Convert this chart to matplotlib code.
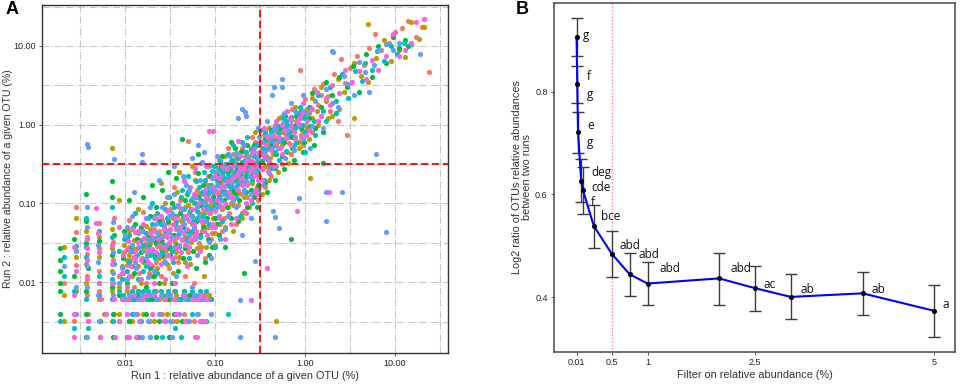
import numpy as np
import matplotlib
matplotlib.use("Agg")
import matplotlib.pyplot as plt
from matplotlib.ticker import FixedLocator, NullFormatter

plt.rcParams['font.family'] = ['Liberation Sans', 'DejaVu Sans']

# ---------------- Panel A data: (run1 %, run2 %) per sample ----------------
sample_red = [
 (0.0027,0.0032),(0.0039,0.0039),(0.0053,0.0032),(0.0076,0.0039),(0.011,0.0032),(0.0135,0.0039),(0.019,0.0032),(0.026,0.0039),(0.034,0.0032),(0.045,0.0039),(0.058,0.0032),(0.0105,0.002),
 (0.0029,0.089),(0.0029,0.044),(0.0021,0.0099),(0.0029,0.0165),(0.0038,0.0068),(0.0038,0.012),(0.0038,0.023),(0.0038,0.038),(0.0051,0.0078),(0.0051,0.014),(0.0051,0.027),(0.0051,0.056),(0.0073,0.0062),(0.0073,0.0099),(0.0073,0.019),(0.0073,0.032),(0.0076,0.066),(0.0085,0.012),
 (0.0105,0.0062),(0.0105,0.0165),(0.011,0.028),(0.011,0.062),(0.0125,0.0088),(0.0125,0.021),(0.013,0.043),(0.0145,0.0062),(0.0145,0.013),(0.015,0.034),(0.016,0.078),(0.017,0.0099),(0.018,0.024),(0.019,0.0062),(0.02,0.016),(0.021,0.047),(0.022,0.0078),(0.023,0.029),(0.025,0.012),(0.026,0.062),(0.027,0.021),(0.028,0.0062),(0.029,0.038),
 (0.031,0.015),(0.032,0.085),(0.034,0.026),(0.035,0.0078),(0.037,0.048),(0.039,0.018),(0.041,0.11),(0.043,0.034),(0.046,0.012),(0.048,0.066),(0.05,0.024),(0.05,0.62),(0.053,0.16),(0.056,0.042),(0.059,0.0099),(0.062,0.085),(0.066,0.031),(0.07,0.13),(0.074,0.055),(0.078,0.02),(0.083,0.22),(0.088,0.075),(0.093,0.042),(0.098,0.13),
 (0.105,0.26),(0.11,0.095),(0.115,0.055),(0.12,0.17),(0.13,0.32),(0.135,0.12),(0.145,0.075),(0.15,0.21),(0.16,0.42),(0.17,0.15),(0.18,0.095),(0.19,0.28),(0.2,0.5),(0.21,0.19),(0.23,0.12),(0.24,0.36),(0.26,0.24),(0.28,0.6),(0.29,0.16),
 (0.32,0.42),(0.35,0.75),(0.38,0.3),(0.42,0.55),(0.46,1.0),(0.5,0.7),(0.55,1.3),(0.6,0.9),(0.66,0.58),(0.72,1.6),(0.8,1.1),(0.9,0.75),(1.0,2.1),(1.1,1.4),(1.25,2.8),(1.4,1.8),(1.6,3.3),(1.8,2.3),(2.1,4.4),(2.5,6.8),(2.8,3.4),(3.2,5.2),(3.8,7.5),(4.5,5.8),(5.2,9.5),(6.0,14),(7.0,8.8),(8.5,11),(10,15),(12,17),(14,21),(17,13),(24,4.6),(0.87,5.0),(2.9,0.75),(20,17.6),
]
core_red = [
 (0.0095,0.0062),(0.012,0.0062),(0.016,0.0068),(0.024,0.0062),(0.033,0.0062),(0.044,0.0068),(0.06,0.0062),(0.075,0.0068),
 (0.0095,0.013),(0.0098,0.024),(0.0115,0.019),(0.0135,0.027),(0.0155,0.02),(0.017,0.031),(0.0185,0.013),(0.02,0.038),(0.022,0.018),(0.024,0.045),(0.026,0.033),(0.028,0.024),
 (0.03,0.056),(0.033,0.04),(0.036,0.021),(0.038,0.07),(0.04,0.042),(0.043,0.058),(0.046,0.09),(0.049,0.036),(0.052,0.075),(0.055,0.11),(0.059,0.05),(0.063,0.15),(0.067,0.065),(0.072,0.095),(0.077,0.18),(0.082,0.12),(0.087,0.05),(0.093,0.1),(0.098,0.065),
 (0.105,0.17),(0.11,0.13),(0.12,0.23),(0.125,0.065),(0.135,0.2),(0.14,0.14),(0.15,0.1),(0.16,0.25),(0.17,0.33),(0.18,0.18),(0.19,0.13),(0.2,0.26),(0.215,0.4),(0.23,0.22),(0.25,0.3),(0.27,0.45),(0.29,0.23),(0.31,0.55),
 (0.34,0.28),(0.37,0.48),(0.41,0.38),(0.45,0.65),(0.5,0.95),(0.56,0.55),(0.62,0.75),(0.7,0.85),(0.78,0.95),(0.88,1.2),(1.0,1.0),(1.15,1.7),
 (0.06,0.25),(0.09,0.035),(0.12,0.045),(0.14,0.5),(0.17,0.055),(0.22,0.075),(0.26,0.7),(0.3,0.11),(0.36,0.16),(0.42,0.22),(0.55,0.32),(0.7,0.42),(0.95,0.55),(1.2,0.8),(1.5,2.4),(1.9,1.5),(2.3,1.1),(0.045,0.2),(0.035,0.16),(0.11,0.36),
]
sample_olive = [
 (0.0021,0.0032),(0.0039,0.0032),(0.0058,0.0039),(0.0072,0.0032),(0.0085,0.0039),(0.012,0.0032),(0.016,0.0039),(0.021,0.0032),(0.029,0.0039),(0.038,0.0032),(0.05,0.0032),(0.065,0.0039),(0.48,0.0032),
 (0.0021,0.028),(0.0021,0.0068),(0.0029,0.066),(0.0029,0.021),(0.0029,0.0078),(0.0037,0.0099),(0.0037,0.017),(0.0037,0.045),(0.0051,0.0062),(0.0051,0.021),(0.0051,0.038),(0.0072,0.5),(0.0072,0.0078),(0.0072,0.014),(0.0072,0.027),(0.0072,0.047),(0.0085,0.0088),(0.0085,0.11),
 (0.0105,0.0078),(0.0105,0.019),(0.011,0.045),(0.012,0.012),(0.013,0.0062),(0.013,0.026),(0.014,0.085),(0.015,0.0099),(0.016,0.018),(0.017,0.052),(0.018,0.0068),(0.019,0.031),(0.02,0.012),(0.021,0.07),(0.023,0.0062),(0.024,0.02),(0.025,0.04),(0.027,0.0099),(0.028,0.1),(0.029,0.026),
 (0.031,0.0062),(0.032,0.048),(0.034,0.013),(0.036,0.032),(0.038,0.14),(0.04,0.021),(0.042,0.062),(0.045,0.0078),(0.047,0.038),(0.05,0.095),(0.053,0.017),(0.056,0.055),(0.06,0.2),(0.063,0.027),(0.067,0.075),(0.071,0.045),(0.075,0.012),(0.08,0.11),(0.085,0.034),(0.09,0.16),(0.095,0.065),
 (0.1,0.042),(0.105,0.14),(0.11,0.28),(0.12,0.085),(0.125,0.2),(0.13,0.05),(0.14,0.13),(0.15,0.35),(0.16,0.095),(0.17,0.23),(0.18,0.14),(0.19,0.45),(0.2,0.075),(0.22,0.3),(0.23,0.18),(0.25,0.5),(0.27,0.13),(0.29,0.34),
 (0.31,0.22),(0.34,0.62),(0.37,0.4),(0.4,0.9),(0.44,0.3),(0.48,0.55),(0.52,1.2),(0.57,0.8),(0.63,0.45),(0.7,1.0),(0.78,1.7),(0.86,0.6),(0.95,1.3),(1.05,0.9),(1.2,2.2),(1.15,0.21),(1.35,1.5),(1.5,3.0),(1.7,2.0),(2.0,1.3),(2.3,3.8),(2.7,2.6),(3.5,1.2),(3.5,6.0),(4.2,4.2),(5.0,3.5),(5.0,19),(6.2,7.0),(7.5,12),(9,6.5),(11,9),(12.9,7.2),(15,20),(18.7,12.2),(21,17.6),
]
core_olive = [
 (0.0105,0.0062),(0.015,0.0062),(0.02,0.0068),(0.027,0.0062),(0.037,0.0068),(0.05,0.0062),(0.065,0.0062),(0.085,0.0068),
 (0.0092,0.016),(0.0097,0.03),(0.011,0.022),(0.0125,0.034),(0.014,0.016),(0.016,0.028),(0.0175,0.022),(0.019,0.048),(0.021,0.034),(0.023,0.015),(0.025,0.026),(0.027,0.05),(0.029,0.017),
 (0.031,0.03),(0.034,0.065),(0.037,0.024),(0.04,0.048),(0.043,0.085),(0.046,0.018),(0.05,0.045),(0.054,0.032),(0.058,0.1),(0.062,0.06),(0.066,0.13),(0.07,0.028),(0.075,0.075),(0.08,0.05),(0.085,0.17),(0.09,0.095),(0.096,0.21),
 (0.1,0.11),(0.11,0.07),(0.115,0.19),(0.12,0.13),(0.13,0.26),(0.14,0.09),(0.15,0.17),(0.16,0.13),(0.17,0.38),(0.18,0.21),(0.195,0.3),(0.21,0.12),(0.22,0.25),(0.24,0.4),(0.26,0.18),(0.28,0.27),(0.3,0.4),
 (0.33,0.5),(0.36,0.3),(0.4,0.6),(0.44,0.42),(0.49,0.8),(0.54,0.6),(0.6,1.1),(0.67,0.7),(0.75,0.9),(0.83,1.3),(0.93,0.85),(1.05,1.6),(1.2,1.2),
 (0.055,0.3),(0.08,0.028),(0.1,0.03),(0.13,0.4),(0.16,0.045),(0.2,0.065),(0.24,0.09),(0.28,0.8),(0.33,0.13),(0.4,0.2),(0.5,0.25),(0.65,0.33),(0.85,0.5),(1.1,0.65),(1.4,1.0),(1.8,1.2),(2.4,1.6),(0.04,0.25),(0.025,0.18),
]
sample_green = [
 (0.0019,0.0039),(0.0037,0.002),(0.0037,0.0039),(0.0053,0.0032),(0.0073,0.002),(0.0073,0.0039),(0.011,0.0032),(0.014,0.002),(0.017,0.0039),(0.022,0.002),(0.024,0.0032),(0.031,0.002),(0.035,0.0039),(0.043,0.0032),(0.08,0.0032),
 (0.0019,0.027),(0.0019,0.019),(0.0019,0.014),(0.0019,0.0099),(0.0019,0.0078),(0.0027,0.035),(0.0027,0.012),(0.0037,0.13),(0.0037,0.06),(0.0037,0.031),(0.0037,0.0078),(0.0039,0.015),(0.0052,0.0068),(0.0052,0.033),(0.0072,0.19),(0.0072,0.12),(0.0072,0.022),(0.0072,0.0088),(0.0076,0.04),(0.0085,0.0068),
 (0.0105,0.0099),(0.0105,0.035),(0.011,0.11),(0.012,0.0062),(0.012,0.016),(0.013,0.055),(0.014,0.0078),(0.015,0.024),(0.016,0.12),(0.017,0.0088),(0.018,0.038),(0.019,0.015),(0.02,0.0062),(0.021,0.022),(0.022,0.09),(0.024,0.0099),(0.025,0.033),(0.026,0.15),(0.027,0.018),(0.029,0.0068),
 (0.03,0.06),(0.032,0.022),(0.033,0.0099),(0.035,0.04),(0.037,0.21),(0.039,0.014),(0.043,0.65),(0.044,0.05),(0.046,0.027),(0.049,0.13),(0.052,0.0068),(0.055,0.07),(0.058,0.036),(0.062,0.015),(0.065,0.24),(0.069,0.095),(0.073,0.05),(0.077,0.018),(0.082,0.065),(0.087,0.14),(0.092,0.028),(0.097,0.3),
 (0.1,0.09),(0.105,0.055),(0.11,0.18),(0.12,0.4),(0.125,0.11),(0.13,0.028),(0.14,0.26),(0.15,0.065),(0.155,0.15),(0.165,0.5),(0.175,0.2),(0.185,0.11),(0.2,0.34),(0.21,0.013),(0.22,0.22),(0.23,0.55),(0.25,0.15),(0.27,0.32),(0.29,0.09),
 (0.31,0.58),(0.33,0.35),(0.36,0.18),(0.39,0.5),(0.42,0.85),(0.46,0.28),(0.5,0.62),(0.55,0.4),(0.6,1.3),(0.65,0.75),(0.7,0.035),(0.72,0.5),(0.8,1.0),(0.9,1.5),(0.98,0.6),(1.1,1.2),(1.2,2.5),(1.3,0.9),(1.5,1.7),(1.7,3.5),(1.6,0.33),(2.0,2.4),(2.4,4.0),(2.9,3.0),(3.4,5.5),(4.0,2.6),(4.8,8.0),(5.5,4.0),(6.5,10),(8,6),(9.5,13),(11,9.5),(14,10),(13,12),
]
core_green = [
 (0.0092,0.0062),(0.0135,0.0068),(0.018,0.0062),(0.026,0.0068),(0.03,0.0062),(0.04,0.0062),(0.056,0.0068),(0.07,0.0062),(0.09,0.0062),
 (0.0095,0.02),(0.0098,0.045),(0.0115,0.026),(0.0125,0.013),(0.0135,0.035),(0.015,0.05),(0.0165,0.019),(0.0175,0.027),(0.019,0.07),(0.021,0.012),(0.022,0.031),(0.024,0.06),(0.026,0.022),(0.028,0.045),
 (0.031,0.028),(0.033,0.1),(0.036,0.055),(0.038,0.03),(0.041,0.075),(0.044,0.02),(0.047,0.11),(0.05,0.045),(0.054,0.085),(0.057,0.025),(0.061,0.06),(0.065,0.12),(0.069,0.04),(0.074,0.17),(0.079,0.09),(0.084,0.035),(0.089,0.22),(0.094,0.12),
 (0.1,0.065),(0.105,0.23),(0.11,0.12),(0.118,0.3),(0.125,0.16),(0.135,0.09),(0.145,0.2),(0.155,0.35),(0.165,0.13),(0.175,0.28),(0.19,0.19),(0.2,0.47),(0.22,0.14),(0.235,0.3),(0.25,0.22),(0.27,0.55),(0.29,0.38),(0.3,0.17),
 (0.33,0.45),(0.36,0.65),(0.4,0.33),(0.43,0.55),(0.48,0.42),(0.53,0.9),(0.58,0.6),(0.64,1.0),(0.72,0.7),(0.8,1.3),(0.9,0.9),(1.0,1.35),(1.15,0.95),
 (0.065,0.42),(0.085,0.022),(0.11,0.04),(0.15,0.6),(0.18,0.06),(0.23,0.09),(0.27,0.12),(0.32,0.85),(0.38,0.14),(0.46,0.2),(0.58,0.27),(0.75,0.36),(0.95,0.45),(1.25,0.55),(1.6,0.8),(2.2,1.4),(0.03,0.25),(0.02,0.17),
]
sample_teal = [
 (0.0019,0.0032),(0.0027,0.0026),(0.0039,0.0026),(0.0053,0.002),(0.0073,0.0032),(0.0105,0.002),(0.012,0.0039),(0.015,0.0032),(0.019,0.002),(0.026,0.002),(0.028,0.0032),(0.036,0.0026),(0.042,0.002),(0.055,0.0039),(0.072,0.0032),(0.14,0.0039),
 (0.0021,0.021),(0.0021,0.012),(0.0027,0.0078),(0.0029,0.029),(0.0037,0.0062),(0.0037,0.021),(0.0037,0.028),(0.0037,0.065),(0.0051,0.0099),(0.0051,0.012),(0.0051,0.045),(0.0072,0.0062),(0.0072,0.011),(0.0072,0.038),(0.0072,0.09),(0.0076,0.017),(0.0085,0.025),(0.0085,0.0078),
 (0.012,0.0078),(0.014,0.0078),(0.016,0.0078),(0.018,0.0078),(0.021,0.0078),(0.025,0.0078),(0.03,0.0078),(0.036,0.0078),(0.045,0.0078),(0.055,0.0078),(0.068,0.0078),(0.08,0.0078),
 (0.0105,0.014),(0.011,0.04),(0.012,0.025),(0.013,0.075),(0.014,0.011),(0.015,0.045),(0.016,0.03),(0.017,0.016),(0.018,0.065),(0.019,0.022),(0.02,0.1),(0.022,0.036),(0.023,0.013),(0.025,0.055),(0.026,0.024),(0.028,0.085),(0.029,0.042),
 (0.031,0.12),(0.033,0.035),(0.034,0.018),(0.036,0.07),(0.038,0.05),(0.04,0.028),(0.043,0.15),(0.045,0.085),(0.048,0.045),(0.051,0.02),(0.054,0.11),(0.057,0.06),(0.061,0.19),(0.064,0.08),(0.068,0.038),(0.072,0.14),(0.076,0.25),(0.08,0.095),(0.085,0.055),(0.09,0.17),(0.095,0.11),
 (0.1,0.3),(0.105,0.2),(0.11,0.12),(0.115,0.35),(0.12,0.24),(0.13,0.14),(0.135,0.17),(0.14,0.42),(0.15,0.28),(0.16,0.19),(0.17,0.12),(0.18,0.38),(0.19,0.24),(0.2,0.6),(0.21,0.15),(0.22,0.45),(0.24,0.28),(0.26,0.2),(0.27,0.4),(0.29,0.26),
 (0.31,0.33),(0.34,0.5),(0.36,0.8),(0.39,0.36),(0.43,0.62),(0.47,0.45),(0.51,0.95),(0.56,0.65),(0.62,1.1),(0.68,0.8),(0.75,0.55),(0.84,1.4),(0.92,1.0),(1.0,0.45),(1.1,1.7),(1.25,1.1),(1.4,2.4),(1.6,1.5),(1.9,3.0),(2.2,2.0),(2.6,4.4),(3.0,2.2),(3.6,4.8),(4.3,3.6),(4.6,6.0),(5.5,5.0),(6.3,8.5),(7.5,6.5),(9,10),(10.5,8),(12.5,11),(15,10.5),
]
core_teal = [
 (0.0095,0.0068),(0.0125,0.0062),(0.017,0.0062),(0.022,0.0062),(0.032,0.0068),(0.042,0.0062),(0.052,0.0062),(0.062,0.0068),(0.077,0.0062),
 (0.0093,0.011),(0.0097,0.035),(0.0112,0.018),(0.0122,0.05),(0.0135,0.022),(0.0148,0.033),(0.016,0.014),(0.0172,0.042),(0.0185,0.03),(0.02,0.055),(0.0215,0.02),(0.023,0.075),(0.0245,0.038),(0.027,0.03),(0.029,0.065),
 (0.031,0.045),(0.033,0.025),(0.035,0.09),(0.037,0.06),(0.039,0.04),(0.042,0.12),(0.044,0.07),(0.047,0.035),(0.05,0.14),(0.053,0.08),(0.056,0.045),(0.06,0.1),(0.063,0.065),(0.066,0.16),(0.07,0.11),(0.074,0.07),(0.078,0.2),(0.083,0.13),(0.088,0.085),(0.093,0.26),(0.098,0.15),
 (0.102,0.1),(0.108,0.17),(0.114,0.27),(0.12,0.15),(0.127,0.21),(0.133,0.32),(0.14,0.23),(0.148,0.16),(0.156,0.36),(0.165,0.25),(0.175,0.17),(0.185,0.3),(0.2,0.22),(0.21,0.35),(0.23,0.26),(0.25,0.48),(0.27,0.32),(0.29,0.55),
 (0.32,0.42),(0.35,0.6),(0.39,0.5),(0.42,0.8),(0.47,0.62),(0.52,0.78),(0.57,1.2),(0.63,0.95),(0.7,1.25),(0.77,0.9),(0.87,1.7),(0.98,1.2),
 (0.07,0.33),(0.1,0.028),(0.12,0.06),(0.16,0.55),(0.19,0.07),(0.23,0.7),(0.26,0.1),(0.3,0.14),(0.35,0.2),(0.42,0.28),(0.52,0.36),(0.62,0.46),(0.8,0.6),(1.0,0.8),(1.3,0.75),(1.7,1.1),(2.2,1.4),(0.05,0.22),
]
sample_blue = [
 (0.0038,0.002),(0.011,0.002),(0.0155,0.002),(0.019,0.002),(0.033,0.002),(0.19,0.002),(0.46,0.002),(0.0029,0.0039),(0.0051,0.0032),(0.0085,0.0032),(0.013,0.0039),(0.018,0.0032),(0.024,0.0039),(0.032,0.0032),(0.04,0.0039),(0.052,0.0032),(0.063,0.0039),(0.09,0.0039),
 (0.0021,0.016),(0.0029,0.0088),(0.0029,0.025),(0.0038,0.575),(0.0039,0.515),(0.0038,0.09),(0.0038,0.05),(0.0038,0.016),(0.0038,0.0088),(0.005,0.0068),(0.005,0.018),(0.005,0.03),(0.0073,0.0068),(0.0076,0.37),(0.0073,0.058),(0.0073,0.024),(0.0073,0.013),(0.0085,0.0099),
 (0.0105,0.011),(0.0105,0.05),(0.011,0.0068),(0.012,0.03),(0.0125,0.14),(0.013,0.018),(0.014,0.042),(0.015,0.0068),(0.0153,0.43),(0.0153,0.34),(0.016,0.025),(0.017,0.065),(0.018,0.0115),(0.019,0.09),(0.02,0.035),(0.021,0.014),(0.022,0.055),(0.024,0.2),(0.025,0.0068),(0.026,0.038),(0.028,0.018),(0.029,0.12),
 (0.03,0.045),(0.032,0.0068),(0.033,0.075),(0.035,0.028),(0.037,0.012),(0.039,0.095),(0.041,0.045),(0.044,0.22),(0.046,0.065),(0.049,0.032),(0.052,0.15),(0.055,0.0088),(0.058,0.05),(0.065,0.56),(0.061,0.12),(0.064,0.022),(0.067,0.07),(0.071,0.34),(0.075,0.1),(0.079,0.06),(0.083,0.16),(0.087,0.032),(0.092,0.21),(0.097,0.085),
 (0.1,0.15),(0.106,0.4),(0.112,0.07),(0.118,0.22),(0.124,0.13),(0.13,0.048),(0.14,0.32),(0.15,0.18),(0.16,0.11),(0.17,0.44),(0.18,1.2),(0.185,0.26),(0.2,1.6),(0.21,0.14),(0.215,1.45),(0.22,1.3),(0.225,0.38),(0.24,0.22),(0.25,0.065),(0.28,0.0185),(0.19,0.0059),(0.27,0.5),(0.29,0.3),
 (0.31,0.7),(0.35,0.45),(0.38,1.1),(0.41,0.65),(0.44,0.079),(0.47,0.068),(0.43,2.4),(0.45,3.0),(0.55,3.8),(0.55,3.0),(0.52,0.049),(0.86,0.116),(1.73,0.06),(1.73,0.138),(2.6,0.139),(6.1,0.43),(7.9,0.043),(0.45,0.9),(0.5,0.5),(0.58,1.4),(0.64,0.85),(0.7,1.9),(0.78,0.7),(0.88,1.2),(0.96,2.4),(1.05,1.4),(1.15,0.5),(1.3,2.0),(1.5,1.3),(1.7,2.8),(1.98,8.7),(2.05,8.3),(2.3,1.7),(2.7,4.2),(3.0,3.3),(3.5,2.4),(4.0,6.2),(4.6,4.6),(5.2,2.6),(5.8,5.8),(6.6,9),(8,10.5),(9.5,9),(11,11),(19.2,7.8),
]
core_blue = [
 (0.0098,0.0062),(0.014,0.0062),(0.019,0.0068),(0.023,0.0062),(0.029,0.0068),(0.038,0.0062),(0.047,0.0062),(0.058,0.0068),(0.072,0.0062),(0.085,0.0062),
 (0.0094,0.015),(0.0099,0.04),(0.0113,0.025),(0.012,0.07),(0.0132,0.015),(0.0145,0.028),(0.0158,0.045),(0.017,0.02),(0.018,0.035),(0.0195,0.025),(0.021,0.065),(0.0225,0.042),(0.024,0.022),(0.026,0.09),(0.0275,0.055),(0.029,0.03),
 (0.031,0.07),(0.033,0.038),(0.035,0.13),(0.037,0.05),(0.04,0.03),(0.042,0.085),(0.045,0.055),(0.048,0.17),(0.051,0.04),(0.054,0.07),(0.057,0.12),(0.06,0.035),(0.064,0.09),(0.068,0.2),(0.072,0.06),(0.076,0.13),(0.081,0.085),(0.086,0.3),(0.091,0.14),(0.096,0.05),
 (0.1,0.25),(0.105,0.09),(0.112,0.17),(0.118,0.11),(0.125,0.28),(0.132,0.19),(0.14,0.12),(0.148,0.4),(0.156,0.22),(0.165,0.16),(0.175,0.32),(0.185,0.19),(0.2,0.27),(0.21,0.55),(0.22,0.19),(0.24,0.33),(0.26,0.42),(0.28,0.25),(0.3,0.38),
 (0.33,0.6),(0.36,0.38),(0.39,0.72),(0.43,0.5),(0.47,0.85),(0.52,0.62),(0.57,1.05),(0.63,0.72),(0.7,1.15),(0.78,1.5),(0.86,0.95),(0.95,1.5),
 (0.075,0.45),(0.09,0.02),(0.115,0.035),(0.14,0.07),(0.17,0.09),(0.2,0.04),(0.25,0.13),(0.3,0.9),(0.34,0.17),(0.4,0.24),(0.48,0.3),(0.6,0.38),(0.75,0.48),(0.95,0.65),(1.2,0.95),(1.6,0.9),(2.0,1.9),(0.035,0.3),(0.055,0.38),
]
sample_magenta = [
 (0.0027,0.002),(0.0053,0.002),(0.0077,0.002),(0.0107,0.002),(0.0133,0.002),(0.06,0.002),(0.063,0.002),(0.0027,0.0039),(0.0039,0.0032),(0.0062,0.0039),(0.0085,0.0032),(0.0105,0.0039),(0.0145,0.0032),(0.02,0.0039),(0.027,0.0032),(0.037,0.0039),(0.047,0.0032),(0.068,0.0032),(0.078,0.0032),
 (0.0027,0.028),(0.0027,0.0068),(0.0029,0.014),(0.0038,0.011),(0.0038,0.019),(0.0038,0.027),(0.0038,0.035),(0.0048,0.088),(0.0048,0.057),(0.005,0.042),(0.0052,0.024),(0.0052,0.0099),(0.0054,0.0062),(0.0072,0.0099),(0.0072,0.017),(0.0072,0.03),(0.0076,0.0062),(0.0085,0.05),
 (0.0105,0.0088),(0.0105,0.026),(0.011,0.012),(0.012,0.048),(0.0125,0.0068),(0.013,0.02),(0.014,0.032),(0.015,0.011),(0.016,0.055),(0.017,0.0068),(0.018,0.018),(0.019,0.042),(0.02,0.026),(0.021,0.0099),(0.022,0.065),(0.024,0.03),(0.025,0.017),(0.027,0.048),(0.028,0.011),(0.029,0.08),
 (0.031,0.032),(0.033,0.02),(0.034,0.055),(0.036,0.0099),(0.038,0.038),(0.04,0.09),(0.042,0.024),(0.044,0.042),(0.047,0.03),(0.049,0.016),(0.052,0.06),(0.055,0.035),(0.058,0.13),(0.061,0.045),(0.065,0.0062),(0.069,0.025),(0.073,0.085),(0.077,0.15),(0.081,0.04),(0.085,0.82),(0.089,0.11),(0.095,0.83),(0.095,0.055),
 (0.1,0.22),(0.105,0.11),(0.11,0.065),(0.115,0.16),(0.12,0.3),(0.13,0.1),(0.14,0.19),(0.15,0.12),(0.16,0.3),(0.17,0.065),(0.18,0.24),(0.19,0.4),(0.2,0.17),(0.21,0.27),(0.22,0.1),(0.23,0.35),(0.25,0.0059),(0.26,0.45),(0.27,0.22),(0.29,0.13),
 (0.31,0.45),(0.33,0.27),(0.35,0.9),(0.37,0.55),(0.38,0.0153),(0.4,0.35),(0.44,0.75),(0.48,1.1),(0.53,0.5),(0.58,0.85),(0.64,1.5),(0.7,0.95),(0.77,0.65),(0.82,0.08),(0.85,1.2),(0.95,1.9),(1.05,1.1),(1.2,1.6),(1.35,2.6),(1.5,1.3),(1.7,2.2),(1.85,0.14),(2.0,3.2),(2.4,2.5),(2.8,5.0),(3.3,3.5),(4.0,4.8),(4.8,3.8),(5.5,6.6),(6.5,5.0),(8,7.5),(9.5,14),(11,7.5),(13,9),(15,11),(17,20),(21,22),
]
core_magenta = [
 (0.0093,0.0062),(0.011,0.0062),(0.0155,0.0062),(0.021,0.0068),(0.028,0.0062),(0.035,0.0062),(0.045,0.0068),(0.055,0.0062),(0.07,0.0068),(0.08,0.0062),
 (0.0092,0.013),(0.0096,0.022),(0.0108,0.033),(0.0118,0.016),(0.0128,0.024),(0.014,0.045),(0.0152,0.019),(0.0165,0.036),(0.0178,0.026),(0.019,0.017),(0.0205,0.045),(0.022,0.024),(0.0235,0.035),(0.025,0.07),(0.027,0.028),(0.0285,0.04),
 (0.03,0.022),(0.032,0.048),(0.034,0.035),(0.036,0.065),(0.038,0.027),(0.041,0.05),(0.043,0.035),(0.046,0.07),(0.049,0.048),(0.052,0.028),(0.055,0.085),(0.058,0.055),(0.062,0.04),(0.066,0.1),(0.07,0.06),(0.075,0.045),(0.08,0.12),(0.085,0.075),(0.09,0.05),(0.095,0.16),
 (0.1,0.08),(0.106,0.14),(0.112,0.21),(0.12,0.09),(0.127,0.16),(0.135,0.27),(0.143,0.14),(0.152,0.2),(0.16,0.12),(0.17,0.22),(0.18,0.15),(0.19,0.28),(0.2,0.21),(0.215,0.32),(0.23,0.17),(0.245,0.27),(0.26,0.35),(0.28,0.3),(0.3,0.2),
 (0.32,0.6),(0.35,0.4),(0.38,0.7),(0.42,0.48),(0.46,0.58),(0.51,0.7),(0.56,1.0),(0.61,0.68),(0.68,1.2),(0.75,0.8),(0.83,1.05),(0.92,1.4),(1.02,0.75),
 (0.08,0.3),(0.1,0.05),(0.13,0.035),(0.15,0.055),(0.18,0.62),(0.21,0.08),(0.25,0.11),(0.28,0.15),(0.33,0.2),(0.39,0.26),(0.45,0.3),(0.56,0.42),(0.7,0.55),(0.9,0.7),(1.1,0.85),(1.4,1.1),(1.9,1.8),(0.045,0.19),(0.06,0.28),
]
samples = [sample_red + core_red, sample_olive + core_olive, sample_green + core_green,
           sample_teal + core_teal, sample_blue + core_blue, sample_magenta + core_magenta]
sample_colors = ['#F8766D', '#B79F00', '#00BA38', '#00BFC4', '#619CFF', '#F564E3']
threshold = 0.316
a_ticks = [0.01, 0.1, 1, 10]
a_ticklabels = ['0.01', '0.10', '1.00', '10.00']

# ---------------- Panel B data ----------------
filt = [0.01, 0.02, 0.03, 0.075, 0.1, 0.25, 0.5, 0.75, 1, 2, 2.5, 3, 4, 5]
log2ratio = [0.906, 0.814, 0.721, 0.626, 0.608, 0.539, 0.485, 0.445, 0.427, 0.437, 0.418, 0.401, 0.408, 0.374]
err_low = [0.869, 0.777, 0.681, 0.585, 0.562, 0.497, 0.440, 0.403, 0.386, 0.386, 0.373, 0.358, 0.365, 0.323]
err_high = [0.942, 0.849, 0.760, 0.668, 0.653, 0.579, 0.530, 0.486, 0.468, 0.486, 0.462, 0.445, 0.450, 0.425]
letters = ['g', 'f', 'g', 'e', 'g', 'deg', 'cde', 'f', 'bce', 'abd', 'abd', 'abd', 'abd', 'ac', 'ab', 'ab', 'a']
letter_x = [0.103, 0.159, 0.15, 0.154, 0.15, 0.21, 0.21, 0.21, 0.35, 0.615, 0.875, 1.17, 2.16, 2.615, 3.14, 4.13, 5.12]
letter_y = [0.909, 0.830, 0.795, 0.734, 0.700, 0.642, 0.613, 0.585, 0.558, 0.501, 0.484, 0.456, 0.456, 0.426, 0.415, 0.415, 0.386]
b_ticks = [0.01, 0.5, 1, 2.5, 5]
b_ticklabels = ['0.01', '0.5', '1', '2.5', '5']
b_yticks = [0.4, 0.6, 0.8]
b_yticklabels = ['0.4', '0.6', '0.8']

fig = plt.figure(figsize=(9.6, 3.84), dpi=100)

# ---------------- Panel A ----------------
axA = fig.add_axes([0.04375, 0.0807, 0.4229, 0.906])
axA.set_xscale('log')
axA.set_yscale('log')
axA.set_xlim(0.0012, 38.8)
axA.set_ylim(0.00126, 33)
for pts, col in zip(samples, sample_colors):
    arr = np.array(pts)
    axA.scatter(arr[:, 0], arr[:, 1], s=14, c=col, linewidths=0, zorder=3)
axA.xaxis.set_major_locator(FixedLocator(a_ticks))
axA.yaxis.set_major_locator(FixedLocator(a_ticks))
minor = [10 ** (k + 0.5) for k in range(-3, 2)]
axA.xaxis.set_minor_locator(FixedLocator(minor))
axA.yaxis.set_minor_locator(FixedLocator(minor))
axA.xaxis.set_minor_formatter(NullFormatter())
axA.yaxis.set_minor_formatter(NullFormatter())
axA.set_xticklabels(a_ticklabels)
axA.set_yticklabels(a_ticklabels)
axA.grid(which='both', color='#c8c8c8', linestyle='-.', linewidth=0.8, zorder=0)
axA.set_axisbelow(True)
axA.axvline(threshold, color='#ff0000', linestyle=(0, (4, 2)), linewidth=1.3, zorder=4)
axA.axhline(threshold, color='#ff0000', linestyle=(0, (4, 2)), linewidth=1.3, zorder=4)
axA.tick_params(which='major', length=2.5, width=0.6, color='#333333', labelsize=6.5, labelcolor='#222222', pad=2)
axA.tick_params(which='minor', length=0)
for sp in axA.spines.values():
    sp.set_color('#333333')
    sp.set_linewidth(1.0)
axA.set_xlabel('Run 1 : relative abundance of a given OTU (%)', fontsize=7.8, color='#333333', labelpad=2)
axA.set_ylabel('Run 2 : relative abundance of a given OTU (%)', fontsize=7.6, color='#333333', labelpad=0)
fig.text(0.006, 0.975, 'A', fontsize=13, fontweight='bold', va='center', ha='left')

# ---------------- Panel B ----------------
axB = fig.add_axes([0.577, 0.0833, 0.4177, 0.909])
axB.set_xlim(-0.306, 5.289)
axB.set_ylim(0.294, 0.972)
axB.axvline(0.5, color='#ff7070', linestyle=':', linewidth=0.9, zorder=1)
yerr = [np.array(log2ratio) - np.array(err_low), np.array(err_high) - np.array(log2ratio)]
axB.errorbar(filt, log2ratio, yerr=yerr, fmt='none', ecolor='#3c3c3c', elinewidth=1.0, capsize=4, capthick=1.0, zorder=2)
axB.plot(filt, log2ratio, color='#0000ff', linewidth=1.5, zorder=3)
axB.scatter(filt, log2ratio, s=7, color='black', zorder=4)
for t, lx, ly in zip(letters, letter_x, letter_y):
    axB.text(lx, ly, t, fontsize=8.5, family=['Open Sans', 'DejaVu Sans'], ha='left', va='center', color='#111111')
axB.set_xticks(b_ticks)
axB.set_xticklabels(b_ticklabels)
axB.set_yticks(b_yticks)
axB.set_yticklabels(b_yticklabels)
axB.tick_params(length=2.5, width=0.6, color='#333333', labelsize=6.5, labelcolor='#222222', pad=2)
for sp in axB.spines.values():
    sp.set_color('#555555')
    sp.set_linewidth(1.2)
axB.set_xlabel('Filter on relative abundance (%)', fontsize=7.8, color='#333333', labelpad=2)
axB.set_ylabel('Log2 ratio of OTUs relative abundances\nbetween two runs', fontsize=7.8, color='#333333', labelpad=2, linespacing=1.0)
fig.text(0.537, 0.975, 'B', fontsize=13, fontweight='bold', va='center', ha='left')

fig.savefig('out.png', dpi=100)
